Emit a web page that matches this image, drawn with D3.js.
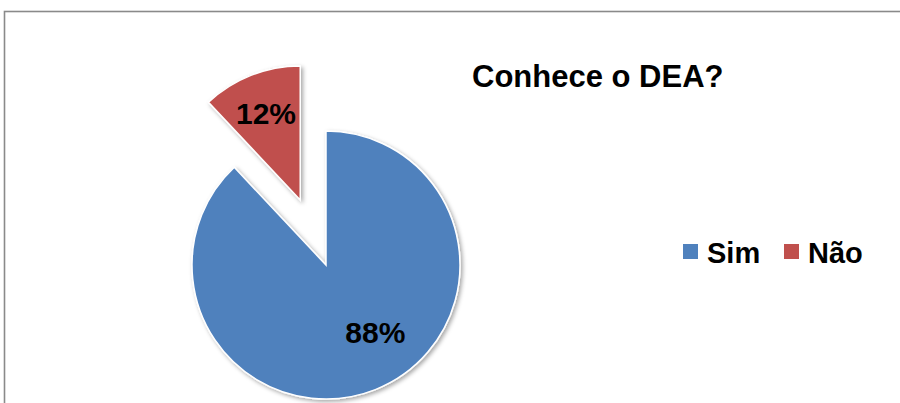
<!DOCTYPE html>
<html>
<head>
<meta charset="utf-8">
<script src="https://cdn.jsdelivr.net/npm/d3@7"></script>
<style>
  body { margin: 0; background: #fff; }
  svg { display: block; font-family: Arial, "Liberation Sans", sans-serif; }
</style>
</head>
<body>
<div id="chart"></div>
<script>
{
const categories = ['Sim', 'Não'];
const values = [88, 12];
const colors = ['#4F81BD', '#C0504D'];

const width = 900;
const height = 403;
const cx = 326, cy = 265;
const radius = 134;
const explode = [0, 70];

let svg = d3.select('#chart')
    .append('svg')
    .attr('width', width)
    .attr('height', height);

// outer frame
svg.append('rect')
    .attr('x', 4.5).attr('y', 11.5)
    .attr('width', width).attr('height', height)
    .style('fill', 'none')
    .style('stroke', '#8a8a8a')
    .style('stroke-width', 1.6);

let defs = svg.append('defs');
let shadow = defs.append('filter').attr('id', 'shadow')
    .attr('x', '-10%').attr('y', '-10%').attr('width', '130%').attr('height', '130%');
shadow.append('feDropShadow')
    .attr('dx', 2).attr('dy', 2).attr('stdDeviation', 2)
    .attr('flood-color', '#000').attr('flood-opacity', 0.35);

let pie = d3.pie().sort(null).value(d => d.value);
let arcs = pie(categories.map((c, i) => ({name: c, value: values[i]})));

let arc = d3.arc().innerRadius(0).outerRadius(radius);

let g = svg.append('g').attr('transform', `translate(${cx}, ${cy})`);

let slices = g.selectAll('.slice').data(arcs).enter().append('g')
    .attr('class', 'slice')
    .attr('transform', (d, i) => {
        const mid = (d.startAngle + d.endAngle) / 2;
        const [dx, dy] = d3.pointRadial(mid, explode[i]);
        return `translate(${dx}, ${dy})`;
    });

slices.append('path')
    .attr('d', arc)
    .style('fill', (d, i) => colors[i])
    .style('stroke', '#fff')
    .style('stroke-width', 1.5)
    .attr('filter', 'url(#shadow)');

// label placement: Excel "best fit" pushes the big label off its mid-angle
const labelAngle = [143.5 * Math.PI / 180, null];
const labelRadius = [83, 93];
slices.append('text')
    .attr('transform', (d, i) => {
        const a = labelAngle[i] == null ? (d.startAngle + d.endAngle) / 2 : labelAngle[i];
        const [x, y] = d3.pointRadial(a, labelRadius[i]);
        return `translate(${x}, ${y})`;
    })
    .attr('dy', '0.36em')
    .style('text-anchor', 'middle')
    .style('font-size', '30px')
    .style('font-weight', 'bold')
    .style('fill', '#000')
    .text(d => d.value + '%');

svg.append('text')
    .attr('x', 472).attr('y', 87)
    .style('font-size', '31px')
    .style('font-weight', 'bold')
    .text('Conhece o DEA?');

let legend = svg.append('g').attr('transform', 'translate(683, 244)');
const legendX = [0, 101];
let items = legend.selectAll('.item').data(categories).enter().append('g')
    .attr('class', 'item')
    .attr('transform', (d, i) => `translate(${legendX[i]}, 0)`);
items.append('rect')
    .attr('width', 15).attr('height', 15)
    .style('fill', (d, i) => colors[i]);
items.append('text')
    .attr('x', 24).attr('y', 19)
    .style('font-size', '29px')
    .style('font-weight', 'bold')
    .text(d => d);
}
</script>
</body>
</html>
